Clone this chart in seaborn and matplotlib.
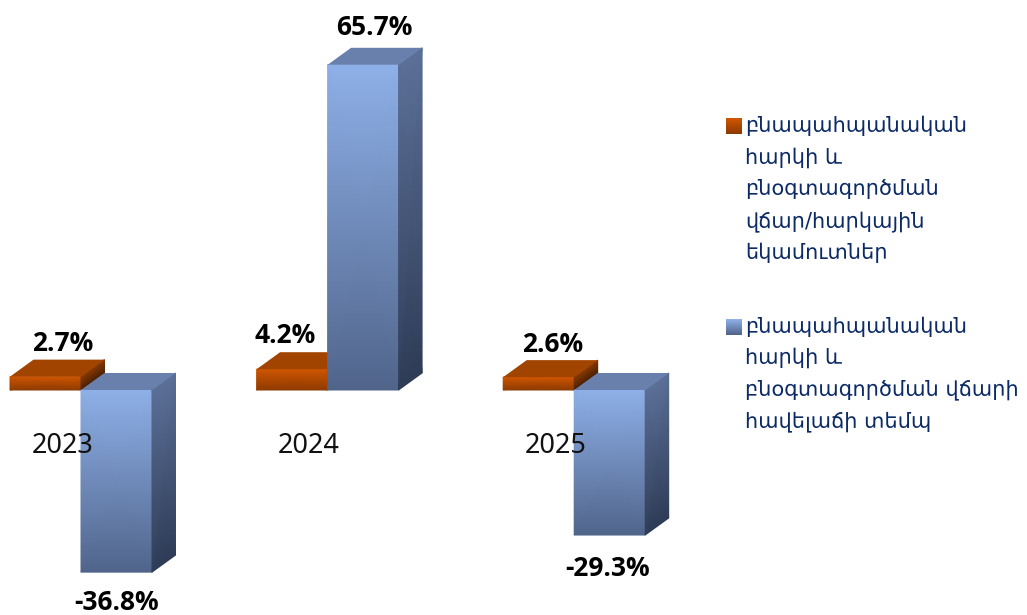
import matplotlib
matplotlib.use("Agg")
import matplotlib.pyplot as plt
import numpy as np
import pandas as pd
import seaborn as sns
from matplotlib.colors import LinearSegmentedColormap
from matplotlib.legend_handler import HandlerBase
from matplotlib.patches import Patch, Polygon, Rectangle
from matplotlib.transforms import ScaledTranslation

years = [2023, 2024, 2025]
series_names = [
    "բնապահպանական\nհարկի և\nբնօգտագործման\nվճար/հարկային\nեկամուտներ",
    "բնապահպանական\nհարկի և\nբնօգտագործման վճարի\nհավելաճի տեմպ",
]
orange_values = [2.7, 4.2, 2.6]
blue_values = [-36.8, 65.7, -29.3]

W, H, DPI = 1027, 615, 100
PX_PER_CAT, PX_PER_UNIT = 246.6, 4.95
X0_PX, Y0_PX = 81, 390
DEPTH_X = 23.5 / PX_PER_CAT
DEPTH_Y = 17 / PX_PER_UNIT
orange_label_offsets = [(17.5, 33), (-6.5, 33.5), (13.5, 32.5)]
blue_label_offsets = [(0, -30), (11, 37), (-2, -33)]

STYLES = [
    dict(front=("#D05600", "#8C3A00"), top="#A04400", side=("#8A3A00", "#4A2000"), z=1.5),
    dict(front=("#8EB0E8", "#50648A"), top="#6A80AC", side=("#5C7098", "#2E3C56"), z=1.6),
]

sns.set_theme(style="white")
plt.rcParams["font.family"] = ["Noto Sans", "DejaVu Sans"]

df = pd.DataFrame({
    "year": years * 2,
    "series": ["a"] * 3 + ["b"] * 3,
    "value": orange_values + blue_values,
})

fig = plt.figure(figsize=(W / DPI, H / DPI), dpi=DPI)
ax = fig.add_axes([0, 0, 1, 1])
sns.barplot(data=df, x="year", y="value", hue="series", ax=ax, width=142 / PX_PER_CAT,
            gap=0, saturation=1, palette=["#A04400", "#6A80AC"], legend=False, native_scale=True)


def shade(ax, xs, ys, colors, z):
    cmap = LinearSegmentedColormap.from_list("g", colors)
    ax.pcolormesh(np.array(xs), np.array(ys), np.array([[0.0, 0.0], [1.0, 1.0]]),
                  shading="gouraud", cmap=cmap, vmin=0, vmax=1, zorder=z)


for container, st in zip(ax.containers, STYLES):
    for patch in container:
        b = patch.get_bbox()
        x0, x1, y0, y1 = b.x0, b.x1, min(b.y0, b.y1), max(b.y0, b.y1)
        patch.set_zorder(st["z"] - 0.1)
        # front (top row first so that C=0 is the light colour)
        shade(ax, [[x0, x1], [x0, x1]], [[y1, y1], [y0, y0]], st["front"], st["z"])
        # right side
        shade(ax, [[x1, x1 + DEPTH_X], [x1, x1 + DEPTH_X]],
              [[y1, y1 + DEPTH_Y], [y0, y0 + DEPTH_Y]], st["side"], st["z"])
        # top
        ax.add_patch(Polygon([(x0, y1), (x1, y1), (x1 + DEPTH_X, y1 + DEPTH_Y), (x0 + DEPTH_X, y1 + DEPTH_Y)],
                             closed=True, facecolor=st["top"], edgecolor="none", zorder=st["z"]))

ax.set_xlim(years[0] - X0_PX / PX_PER_CAT, years[0] + (W - X0_PX) / PX_PER_CAT)
ax.set_ylim(-(H - Y0_PX) / PX_PER_UNIT, Y0_PX / PX_PER_UNIT)

# value labels
for container, vals, offs in zip(ax.containers, [orange_values, blue_values],
                                 [orange_label_offsets, blue_label_offsets]):
    for patch, v, (ox, oy) in zip(container, vals, offs):
        b = patch.get_bbox()
        ax.annotate(f"{v}%", xy=((b.x0 + b.x1) / 2, v), xytext=(ox * 0.72, oy * 0.72),
                    textcoords="offset points", ha="center", va="center",
                    fontsize=19, fontweight="bold", family=["Open Sans", "DejaVu Sans"],
                    color="black", zorder=5)

# axis: year tick labels sit below the zero line, shifted left of the group centre
ax.set_xlabel("")
ax.set_ylabel("")
ax.set_yticks([])
ax.set_xticks(years, [str(y) for y in years])
for s in ["left", "right", "top"]:
    ax.spines[s].set_visible(False)
ax.spines["bottom"].set_position(("data", 0))
ax.spines["bottom"].set_visible(False)
ax.tick_params(axis="x", length=0, pad=30, labelsize=19.5, labelcolor="#111111")
ax.set_axisbelow(False)
shift = ScaledTranslation(-18.5 / DPI, 0, fig.dpi_scale_trans)
for lab in ax.get_xticklabels():
    lab.set_transform(lab.get_transform() + shift)
    lab.set_zorder(6)


class GradientHandler(HandlerBase):
    def __init__(self, colors, n_lines, line_px):
        super().__init__()
        self.colors, self.n_lines, self.line_px = colors, n_lines, line_px

    def create_artists(self, legend, orig_handle, xdescent, ydescent, width, height, fontsize, trans):
        cmap = LinearSegmentedColormap.from_list("g", self.colors)
        size = 16 * 0.72
        y_c = height / 2 - ydescent + (self.n_lines - 1) / 2 * self.line_px * 0.72
        n = 16
        arts = []
        for i in range(n):
            arts.append(Rectangle((-xdescent, y_c + size / 2 - (i + 1) * size / n), size, size / n + 0.1,
                                  facecolor=cmap(i / (n - 1)), edgecolor="none", transform=trans))
        return arts


handles = [Patch(label=series_names[0]), Patch(label=series_names[1])]
handler_map = {
    handles[0]: GradientHandler(STYLES[0]["front"], 5, 32),
    handles[1]: GradientHandler(STYLES[1]["front"], 4, 32),
}
leg = ax.legend(handles=handles, handler_map=handler_map, frameon=False,
                loc="upper left", bbox_to_anchor=(726 / W, 1 - 116 / H), bbox_transform=fig.transFigure,
                prop={"family": "DejaVu Sans", "size": 15}, labelcolor="#0B2A66",
                handlelength=0.77, handletextpad=0.15, labelspacing=2.55, borderpad=0, borderaxespad=0)
for t in leg.get_texts():
    t.set_linespacing(1.69)
leg.set_zorder(7)

fig.savefig("out.png", dpi=DPI)
